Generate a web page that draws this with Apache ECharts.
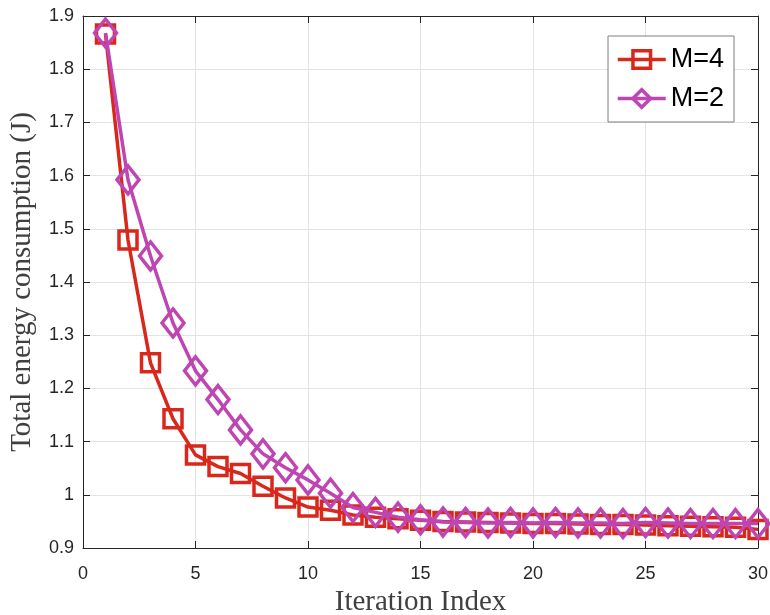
<!DOCTYPE html>
<html>
<head>
<meta charset="utf-8">
<script src="https://cdn.jsdelivr.net/npm/echarts@6/dist/echarts.min.js"></script>
<style>html,body{margin:0;padding:0;background:#fff;}#c{width:770px;height:615px;}</style>
</head>
<body>
<div id="c"></div>
<script>
const iterations = [1,2,3,4,5,6,7,8,9,10,11,12,13,14,15,16,17,18,19,20,21,22,23,24,25,26,27,28,29,30];
const seriesM4 = [1.866,1.479,1.248,1.143,1.075,1.053,1.040,1.016,0.994,0.977,0.971,0.962,0.958,0.955,0.952,0.950,0.949,0.948,0.947,0.946,0.946,0.945,0.944,0.944,0.943,0.942,0.941,0.940,0.939,0.935];
const seriesM2 = [1.868,1.592,1.449,1.323,1.233,1.179,1.122,1.077,1.051,1.028,1.003,0.976,0.967,0.958,0.953,0.949,0.948,0.947,0.948,0.947,0.948,0.947,0.947,0.946,0.948,0.947,0.946,0.946,0.946,0.946];
const seriesNames = ['M=4','M=2'];
const xTicks = {min:0, max:30, interval:5};
const yTicks = {min:0.9, max:1.9, interval:0.1};

const red = '#D9281B', mag = '#BF45B2';
const chart = echarts.init(document.getElementById('c'), null, {renderer:'canvas'});
const axisCol = '#262626';
const tickFont = {fontFamily:'Liberation Sans, Arial, sans-serif', fontSize:18, color:'#262626'};
function pair(xs, ys){ return xs.map((x,i)=>[x, ys[i]]); }
chart.setOption({
  animation:false,
  grid:{left:83, top:16, right:12, bottom:67, show:false, containLabel:false, outerBoundsMode:'none'},
  legend:{
    orient:'vertical', left:608, top:36,
    data:seriesNames,
    backgroundColor:'#fff', borderColor:'#7f7f7f', borderWidth:1,
    padding:[10,10,10,8], itemGap:12, itemWidth:48, itemHeight:22,
    lineStyle:{width:3.5},
    itemStyle:{borderWidth:3.5},
    textStyle:{fontFamily:'Liberation Sans, Arial, sans-serif', fontSize:27, color:'#000'}
  },
  xAxis:[{
    type:'value', min:xTicks.min, max:xTicks.max, interval:xTicks.interval,
    name:'Iteration Index', nameLocation:'middle', nameGap:40,
    nameTextStyle:{fontFamily:'Liberation Serif, Times New Roman, serif', fontSize:29, color:'#404040'},
    axisLine:{show:true, onZero:false, lineStyle:{color:axisCol, width:1}},
    axisTick:{show:true, inside:true, length:7, lineStyle:{color:axisCol}},
    axisLabel:Object.assign({margin:17}, tickFont),
    splitLine:{show:true, lineStyle:{color:'#E3E3E3', width:1}}
  },{
    type:'value', position:'top', min:xTicks.min, max:xTicks.max, interval:xTicks.interval,
    axisLine:{show:true, onZero:false, lineStyle:{color:axisCol, width:1}},
    axisTick:{show:true, inside:true, length:7, lineStyle:{color:axisCol}},
    axisLabel:{show:false}, splitLine:{show:false}
  }],
  yAxis:[{
    type:'value', min:yTicks.min, max:yTicks.max, interval:yTicks.interval,
    name:'Total energy consumption (J)', nameLocation:'middle', nameGap:46,
    nameTextStyle:{fontFamily:'Liberation Serif, Times New Roman, serif', fontSize:29, color:'#404040'},
    axisLine:{show:true, onZero:false, lineStyle:{color:axisCol, width:1}},
    axisTick:{show:true, inside:true, length:7, lineStyle:{color:axisCol}},
    axisLabel:Object.assign({margin:9, formatter:v=>(+v.toFixed(1)).toString()}, tickFont),
    splitLine:{show:true, lineStyle:{color:'#E3E3E3', width:1}}
  },{
    type:'value', position:'right', min:yTicks.min, max:yTicks.max, interval:yTicks.interval,
    axisLine:{show:true, onZero:false, lineStyle:{color:axisCol, width:1}},
    axisTick:{show:true, inside:true, length:7, lineStyle:{color:axisCol}},
    axisLabel:{show:false}, splitLine:{show:false}
  }],
  series:[{
    name:seriesNames[0], type:'line', data:pair(iterations, seriesM4),
    symbol:'rect', symbolSize:[18,18], showAllSymbol:true,
    lineStyle:{color:red, width:3.5},
    itemStyle:{color:'rgba(255,255,255,0)', borderColor:red, borderWidth:3.5},
    z:2
  },{
    name:seriesNames[1], type:'line', data:pair(iterations, seriesM2),
    symbol:'diamond', symbolSize:[22,28], showAllSymbol:true,
    lineStyle:{color:mag, width:3.5},
    itemStyle:{color:'rgba(255,255,255,0)', borderColor:mag, borderWidth:3.5},
    z:3
  }]
});
</script>
</body>
</html>
